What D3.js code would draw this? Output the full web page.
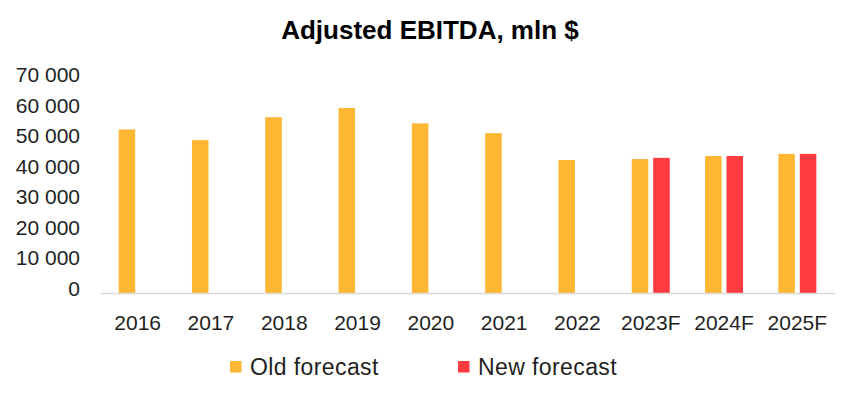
<!DOCTYPE html>
<html>
<head>
<meta charset="utf-8">
<script src="https://cdn.jsdelivr.net/npm/d3@7"></script>
<style>
  body { margin: 0; background: #fff; }
  text { font-family: "Liberation Sans", sans-serif; fill: #1f1f1f; }
</style>
</head>
<body>
<script>
let width = 858;
let height = 398;

// data
let years = ["2016", "2017", "2018", "2019", "2020", "2021", "2022", "2023F", "2024F", "2025F"];
let seriesNames = ["Old forecast", "New forecast"];
let oldForecast = [53500, 50000, 57500, 60500, 55500, 52300, 43500, 43800, 44800, 45500];
let newForecast = [null, null, null, null, null, null, null, 44200, 44800, 45500];
let yTicks = [0, 10000, 20000, 30000, 40000, 50000, 60000, 70000];
let colors = ["#ffb734", "#ff3b3f"];

let svg = d3
  .select("body")
  .append("svg")
  .attr("width", width)
  .attr("height", height);

let x = d3.scaleBand().domain(years).range([101, 834]);

// two slots per year, old on the left, new on the right
let x1 = d3
  .scaleBand()
  .domain(seriesNames)
  .range([x.bandwidth() / 2 - 19, x.bandwidth() / 2 + 19])
  .paddingInner(0.23);

let y = d3.scaleLinear().domain([0, 70000]).range([293, 79]);

let fmt = (v) => d3.format(",")(v).replace(/,/g, " ");

// title
svg
  .append("text")
  .attr("x", 430)
  .attr("y", 39)
  .attr("text-anchor", "middle")
  .style("font-size", "26px")
  .style("font-weight", "bold")
  .style("fill", "#000")
  .text("Adjusted EBITDA, mln $");

// y labels (no axis line, no gridlines)
svg
  .append("g")
  .selectAll("text")
  .data(yTicks)
  .enter()
  .append("text")
  .attr("x", 80)
  .attr("y", (d) => y(d) + 3)
  .attr("text-anchor", "end")
  .style("font-size", "21px")
  .text(fmt);

// bars
let rows = years.map((yr, i) => ({
  year: yr,
  values: [
    { key: seriesNames[0], value: oldForecast[i], color: colors[0] },
    { key: seriesNames[1], value: newForecast[i], color: colors[1] },
  ].filter((d) => d.value != null),
}));

svg
  .append("g")
  .selectAll("g")
  .data(rows)
  .enter()
  .append("g")
  .attr("transform", (d) => `translate(${x(d.year)},0)`)
  .selectAll("rect")
  .data((d) => d.values)
  .enter()
  .append("rect")
  .attr("x", (d) => x1(d.key))
  .attr("width", x1.bandwidth())
  .attr("y", (d) => y(d.value))
  .attr("height", (d) => y(0) - y(d.value))
  .attr("fill", (d) => d.color);

// x axis line
svg
  .append("line")
  .attr("x1", 101)
  .attr("x2", 835)
  .attr("y1", y(0) + 0.5)
  .attr("y2", y(0) + 0.5)
  .attr("stroke", "#d9d9d9")
  .attr("stroke-width", 1.5);

// x labels
svg
  .append("g")
  .selectAll("text")
  .data(years)
  .enter()
  .append("text")
  .attr("x", (d) => x(d) + x.bandwidth() / 2)
  .attr("y", 330)
  .attr("text-anchor", "middle")
  .style("font-size", "21px")
  .text((d) => d);

// legend
let legendPos = [230, 458];
let legend = svg
  .append("g")
  .selectAll("g")
  .data(seriesNames)
  .enter()
  .append("g")
  .attr("transform", (d, i) => `translate(${legendPos[i]},361)`);

legend
  .append("rect")
  .attr("width", 11.5)
  .attr("height", 11.5)
  .attr("fill", (d, i) => colors[i]);

legend
  .append("text")
  .attr("x", 20)
  .attr("y", 14)
  .style("font-size", "23px")
  .style("letter-spacing", "0.4px")
  .text((d) => d);
</script>
</body>
</html>
